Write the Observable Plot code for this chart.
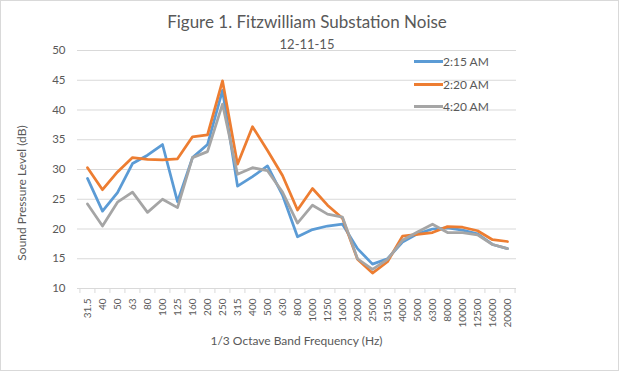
<!DOCTYPE html>
<html><head><meta charset="utf-8">
<script src="https://cdn.jsdelivr.net/npm/d3@7"></script>
<script src="https://cdn.jsdelivr.net/npm/@observablehq/plot@0.6"></script>
<style>
body{margin:0;background:#fff;}
#wrap{position:relative;width:620px;height:372px;overflow:hidden;font-family:Lato,"Open Sans",sans-serif;color:#595959;background:#fff}
#wrap svg{position:absolute;left:0;top:0}
.t{position:absolute;white-space:nowrap;line-height:1}
#frame{position:absolute;left:0;top:0;width:619px;height:371px;border:1px solid #d9d9d9;box-sizing:border-box;pointer-events:none}
#title{top:13px;left:0;width:614px;text-align:center;font-size:17px}
#subtitle{top:38px;left:0;width:614px;text-align:center;font-size:13px}
#xtitle{top:335px;left:77px;width:439px;text-align:center;font-size:12px}
#ytitle{left:22px;top:193px;font-size:12px;transform:translate(-50%,-50%) rotate(-90deg)}
#legend{position:absolute;left:414px;top:50px;font-size:12px}
.row{display:flex;align-items:center;height:22.7px}
.sw{width:29px;height:3px}
</style></head>
<body>
<div id="wrap">
  <div id="chart"></div>
  <div class="t" id="title">Figure 1. Fitzwilliam Substation Noise</div>
  <div class="t" id="subtitle">12-11-15</div>
  <div class="t" id="xtitle">1/3 Octave Band Frequency (Hz)</div>
  <div class="t" id="ytitle">Sound Pressure Level (dB)</div>
  <div id="legend"></div>
  <div id="frame"></div>
</div>
<script>
const categories = ["31.5","40","50","63","80","100","125","160","200","250","315","400","500","630","800","1000","1250","1600","2000","2500","3150","4000","5000","6300","8000","10000","12500","16000","20000"];
const seriesNames = ["2:15 AM","2:20 AM","4:20 AM"];
const s0215 = [28.5,23.0,26.1,31.0,32.4,34.2,24.6,32.0,34.2,43.3,27.2,28.8,30.6,25.7,18.7,19.9,20.5,20.8,16.7,14.1,15.0,17.8,19.2,20.0,20.2,19.8,19.2,17.4,16.7];
const s0220 = [30.3,26.6,29.6,32.0,31.7,31.6,31.8,35.5,35.8,44.9,30.9,37.2,33.2,29.0,23.2,26.8,24.0,21.8,14.9,12.6,14.5,18.8,19.1,19.4,20.4,20.3,19.7,18.2,17.9];
const s0420 = [24.2,20.5,24.5,26.2,22.8,25.0,23.6,32.0,33.0,41.0,29.2,30.3,29.8,26.2,21.0,24.0,22.5,22.0,15.0,13.2,14.9,18.1,19.5,20.8,19.4,19.4,19.0,17.4,16.7];
const seriesColors = ["#5B9BD5","#ED7D31","#A5A5A5"];
const yTicks = [10,15,20,25,30,35,40,45,50];

const seriesValues = [s0215, s0220, s0420];
const data = seriesNames.flatMap((s,k) => seriesValues[k].map((v,i) => ({cat: categories[i], v, s})));

const W = 620, H = 372, mL = 77, mR = 104, mT = 50, mB = 84;
const step = (W - mL - mR) / categories.length;

const chart = Plot.plot({
  width: W, height: H,
  marginTop: mT, marginBottom: mB, marginLeft: mL, marginRight: mR,
  style: {fontFamily: "Lato, 'Open Sans', sans-serif", color: "#595959", background: "transparent"},
  x: {type: "point", domain: categories, padding: 0.5},
  y: {domain: [10, 50]},
  color: {domain: seriesNames, range: seriesColors},
  marks: [
    Plot.gridY(yTicks, {stroke: "#d9d9d9", strokeOpacity: 1, strokeWidth: 1}),
    Plot.axisY(yTicks, {tickSize: 0, tickPadding: 12, fontSize: 11.5, label: null}),
    Plot.axisX({tickSize: 5, tickFormat: () => "", dx: -step/2, stroke: "#d9d9d9", strokeOpacity: 1, label: null}),
    Plot.axisX([categories[categories.length-1]], {tickSize: 5, tickFormat: () => "", dx: step/2, stroke: "#d9d9d9", strokeOpacity: 1, label: null}),
    Plot.axisX({tickSize: 0, tickRotate: -90, tickPadding: 10, fontSize: 10, label: null}),
    Plot.line(data, {x: "cat", y: "v", stroke: "s", z: "s", strokeWidth: 2.75, strokeLinejoin: "round", strokeLinecap: "round"})
  ]
});
document.getElementById("chart").appendChild(chart);

const legend = document.getElementById("legend");
seriesNames.forEach((name, k) => {
  const row = document.createElement("div");
  row.className = "row";
  const sw = document.createElement("div");
  sw.className = "sw";
  sw.style.background = seriesColors[k];
  const tx = document.createElement("span");
  tx.textContent = name;
  row.appendChild(sw); row.appendChild(tx);
  legend.appendChild(row);
});
</script>
</body></html>
